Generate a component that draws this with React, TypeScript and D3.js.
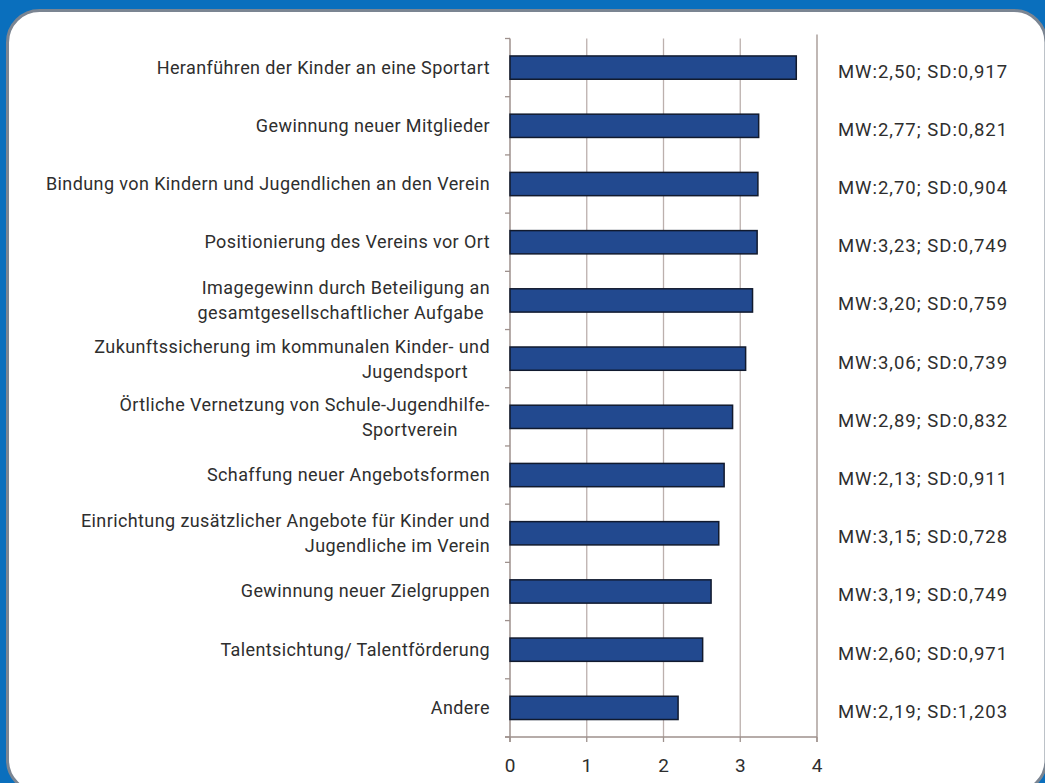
import React from "react";
import * as d3 from "d3";

const categories: string[] = [
  "Heranführen der Kinder an eine Sportart",
  "Gewinnung neuer Mitglieder",
  "Bindung von Kindern und Jugendlichen an den Verein",
  "Positionierung des Vereins vor Ort",
  "Imagegewinn durch Beteiligung an|gesamtgesellschaftlicher Aufgabe",
  "Zukunftssicherung im kommunalen Kinder- und|Jugendsport",
  "Örtliche Vernetzung von Schule-Jugendhilfe-|Sportverein",
  "Schaffung neuer Angebotsformen",
  "Einrichtung zusätzlicher Angebote für Kinder und|Jugendliche im Verein",
  "Gewinnung neuer Zielgruppen",
  "Talentsichtung/ Talentförderung",
  "Andere",
];

const values: number[] = [3.73, 3.24, 3.23, 3.22, 3.16, 3.07, 2.9, 2.79, 2.72, 2.62, 2.51, 2.19];

const statLabels: string[] = [
  "MW:2,50; SD:0,917",
  "MW:2,77; SD:0,821",
  "MW:2,70; SD:0,904",
  "MW:3,23; SD:0,749",
  "MW:3,20; SD:0,759",
  "MW:3,06; SD:0,739",
  "MW:2,89; SD:0,832",
  "MW:2,13; SD:0,911",
  "MW:3,15; SD:0,728",
  "MW:3,19; SD:0,749",
  "MW:2,60; SD:0,971",
  "MW:2,19; SD:1,203",
];

const xTicks: number[] = [0, 1, 2, 3, 4];

// layout of the wrapped second lines (anchor, x)
const secondLineLayout: Record<number, [string, number]> = {
  4: ["end", 484],
  5: ["start", 362],
  6: ["start", 362],
  8: ["end", 490],
};

const W = 1045;
const H = 783;
const FONT = "Roboto, 'Noto Sans', sans-serif";
const AXIS = "#9e918d";
const TEXT = "#2e2e2e";

export default function App() {
  const x = d3.scaleLinear().domain([0, 4]).range([510, 817]);
  const y = d3
    .scaleBand<string>()
    .domain(categories)
    .range([38.5, 737])
    .paddingInner(0.6)
    .paddingOuter(0.3);
  const step = y.step();
  const top = 38.5;
  const bottom = 737;
  const bw = y.bandwidth();
  const labelStyle = { letterSpacing: "0.4px" };

  return (
    <svg
      width={W}
      height={H}
      style={{ position: "absolute", left: 0, top: 0, display: "block" }}
      fontFamily={FONT}
    >
      <rect x={0} y={0} width={W} height={H} fill="#0a6fbd" />
      <rect x={7.5} y={10.5} width={1038.5} height={781.5} rx={32} ry={32} fill="#ffffff" stroke="#7b8592" strokeWidth={3} />

      {/* gridlines */}
      {[1, 2, 3].map((t) => (
        <line key={"g" + t} x1={x(t)} x2={x(t)} y1={top} y2={bottom} stroke="#bcb0ad" strokeWidth={1.3} />
      ))}
      {/* right separator line */}
      <line x1={x(4)} x2={x(4)} y1={top - 4} y2={bottom + 5} stroke={AXIS} strokeWidth={1.3} />
      {/* left axis */}
      <line x1={x(0)} x2={x(0)} y1={top} y2={bottom + 5} stroke={AXIS} strokeWidth={1.5} />
      {d3.range(categories.length + 1).map((i) => (
        <line key={"yt" + i} x1={x(0) - 5} x2={x(0)} y1={top + i * step} y2={top + i * step} stroke={AXIS} strokeWidth={1.3} />
      ))}
      {/* bottom axis */}
      <line x1={x(0) - 5} x2={x(4)} y1={bottom} y2={bottom} stroke={AXIS} strokeWidth={1.5} />
      {xTicks.map((t) => (
        <g key={"xt" + t}>
          <line x1={x(t)} x2={x(t)} y1={bottom} y2={bottom + 5} stroke={AXIS} strokeWidth={1.3} />
          <text x={x(t)} y={772} textAnchor="middle" fontSize={19} fill={TEXT}>
            {t}
          </text>
        </g>
      ))}

      {/* bars */}
      {categories.map((c, i) => (
        <rect
          key={"b" + i}
          x={x(0)}
          y={y(c)!}
          width={x(values[i]) - x(0)}
          height={bw}
          fill="#22498f"
          stroke="#111a2e"
          strokeWidth={1.5}
        />
      ))}

      {/* category labels */}
      {categories.map((c, i) => {
        const cy = y(c)! + bw / 2;
        const lines = c.split("|");
        if (lines.length === 1) {
          return (
            <text key={"l" + i} x={490} y={cy + 6} textAnchor="end" fontSize={18} fill={TEXT} style={labelStyle}>
              {lines[0]}
            </text>
          );
        }
        const [anchor, lx] = secondLineLayout[i] || ["end", 490];
        return (
          <g key={"l" + i}>
            <text x={490} y={cy - 6} textAnchor="end" fontSize={18} fill={TEXT} style={labelStyle}>
              {lines[0]}
            </text>
            <text x={lx} y={cy + 19} textAnchor={anchor as any} fontSize={18} fill={TEXT} style={labelStyle}>
              {lines[1]}
            </text>
          </g>
        );
      })}

      {/* stat labels */}
      {categories.map((c, i) => (
        <text
          key={"s" + i}
          x={923}
          y={y(c)! + bw / 2 + 10}
          textAnchor="middle"
          fontSize={18.5}
          fill={TEXT}
          style={{ letterSpacing: "1px" }}
        >
          {statLabels[i]}
        </text>
      ))}
    </svg>
  );
}
